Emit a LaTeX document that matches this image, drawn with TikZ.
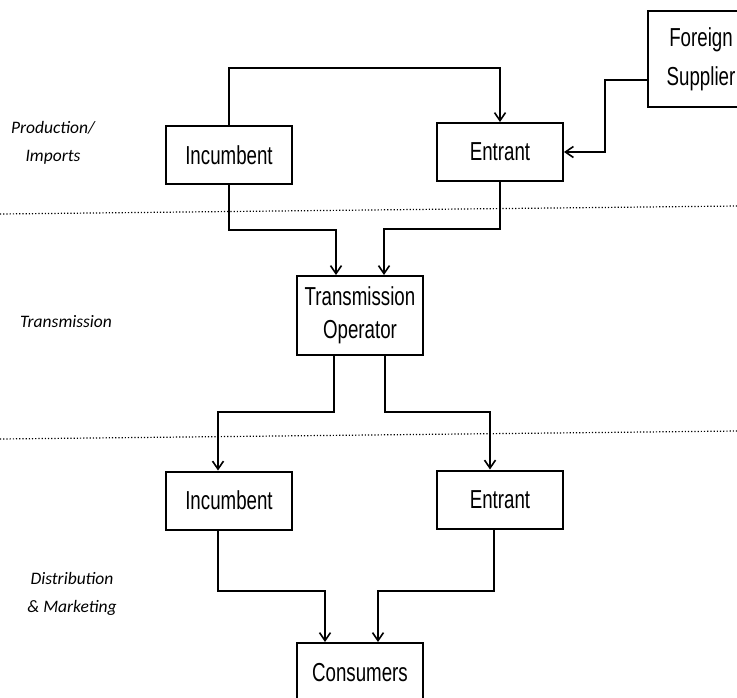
\documentclass[tikz,border=0pt]{standalone}
\usepackage{fontspec}
\setmainfont{Liberation Sans}[FakeStretch=0.72]
\newfontfamily\labelfont{Carlito}
\usepackage{tikz}
\usetikzlibrary{arrows.meta, positioning, calc}

\begin{document}
\begin{tikzpicture}[x=1pt, y=-1pt,
    box/.style={draw, line width=2pt, fill=white, minimum width=126pt, minimum height=58pt,
      align=center, font=\fontsize{26}{33}\selectfont},
    flow/.style={line width=2pt, -{Straight Barb[length=8pt, width=11pt, line width=1.6pt]}},
    sep/.style={dotted, line width=1.2pt},
    stage/.style={align=center, font=\labelfont\itshape\fontsize{17.5}{27.5}\selectfont}]
      \useasboundingbox (0,0) rectangle (737,697);
      \clip (0,0) rectangle (737,697);
      % stage separators
      \draw[sep] (0,214) -- (737,206);
      \draw[sep] (0,439) -- (737,431);
      % stage labels
      \foreach \n/\x/\y/\t in {prod/53/143/{Production/\\Imports}, trans/66/322/Transmission, dist/72/594/{Distribution\\\& Marketing}} {
        \node[stage] (\n) at (\x,\y) {\t};
      }
      % boxes
      \node[box] (inc1) at (229,155) {Incumbent};
      \node[box] (ent1) at (500,152) {Entrant};
      \node[box, minimum width=106pt, minimum height=96pt, font=\fontsize{26}{39}\selectfont] (fs) at (701,59) {Foreign\\Supplier};
      \node[box, minimum height=79pt] (tso) at (360,315.5) {Transmission\\Operator};
      \node[box] (inc2) at (229,500.5) {Incumbent};
      \node[box] (ent2) at (500,499.5) {Entrant};
      \node[box, minimum height=60pt] (cons) at (360,673) {Consumers};
      % flows
      \draw[flow] (inc1.north) -- ++(0,-57) -| (ent1.north);
      \draw[flow] ([yshift=-21pt]fs.west) -- ++(-42,0) |- (ent1.east);
      \draw[flow] (inc1.south) -- ++(0,45) -| ([xshift=-24pt]tso.north);
      \draw[flow] (ent1.south) -- ++(0,47) -| ([xshift=24pt]tso.north);
      \draw[flow] ([xshift=-26pt]tso.south) -- ++(0,56) -| ([xshift=-11pt]inc2.north);
      \draw[flow] ([xshift=25pt]tso.south) -- ++(0,56) -| ([xshift=-10pt]ent2.north);
      \draw[flow] ([xshift=-11pt]inc2.south) -- ++(0,60) -| ([xshift=-35pt]cons.north);
      \draw[flow] ([xshift=-6pt]ent2.south) -- ++(0,61) -| ([xshift=18pt]cons.north);
    \end{tikzpicture}
\end{document}
